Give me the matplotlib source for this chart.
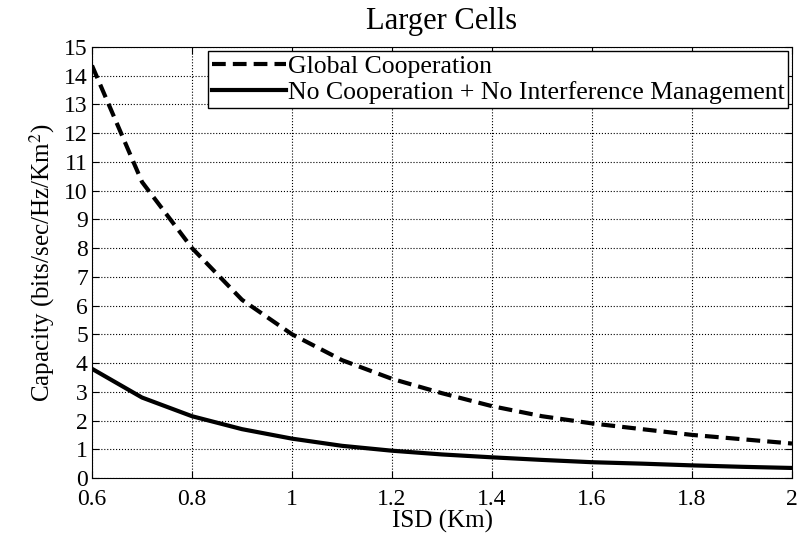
import numpy as np
import matplotlib.pyplot as plt

plt.rcParams['font.family'] = ['Liberation Serif', 'DejaVu Serif']
plt.rcParams['mathtext.fontset'] = 'stix'

isd = [0.6, 0.7, 0.8, 0.9, 1.0, 1.1, 1.2, 1.3, 1.4, 1.5, 1.6, 1.7, 1.8, 1.9, 2.0]
global_coop = [14.35, 10.3, 8.0, 6.2, 5.0, 4.1, 3.45, 2.95, 2.5, 2.15, 1.9, 1.7, 1.5, 1.35, 1.2]
no_coop = [3.8, 2.8, 2.15, 1.7, 1.37, 1.12, 0.95, 0.82, 0.72, 0.63, 0.55, 0.5, 0.44, 0.39, 0.35]

fig = plt.figure(figsize=(8, 5.35), dpi=100)
ax = fig.add_axes([0.115, 0.1065, 0.875, 0.806])

ax.plot(isd, global_coop, 'k--', lw=3, dashes=(3.3, 1.7), label='Global Cooperation')
ax.plot(isd, no_coop, 'k-', lw=3, label='No Cooperation + No Interference Management')

ax.set_xlim(0.6, 2)
ax.set_ylim(0, 15)
ax.set_xticks([0.6, 0.8, 1, 1.2, 1.4, 1.6, 1.8, 2])
ax.set_xticklabels(['0.6', '0.8', '1', '1.2', '1.4', '1.6', '1.8', '2'])
ax.set_yticks(range(0, 16))
ax.tick_params(direction='in', labelsize=17, top=True, right=True, length=5)
ax.tick_params(axis='x', pad=8)
ax.tick_params(axis='y', pad=3)
ax.grid(True, linestyle=':', color='k', lw=0.8)

ax.set_xlabel('ISD (Km)', fontsize=18, labelpad=0)
ax.set_ylabel('Capacity (bits/sec/Hz/Km$^2$)', fontsize=18, labelpad=5)
ax.set_title('Larger Cells', fontsize=22, pad=13)

leg = ax.legend(loc='upper right', fontsize=18.5, fancybox=False, framealpha=1,
                edgecolor='k', handlelength=2.9, handletextpad=0.05,
                borderaxespad=0.15, borderpad=0.15, labelspacing=0.15)
leg.get_frame().set_linewidth(1)

plt.savefig('out.png')
